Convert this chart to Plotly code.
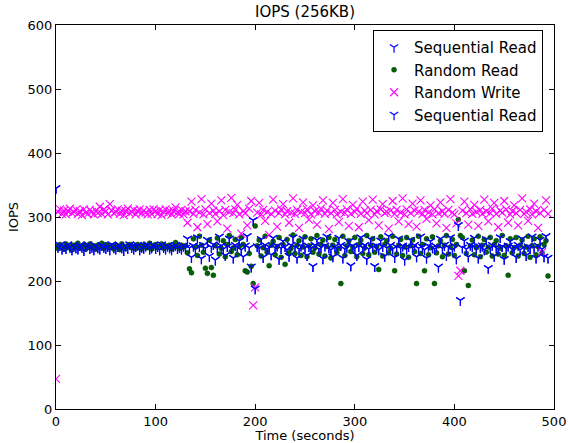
import plotly.graph_objects as go

# Time axis (seconds), sampled every 2 s
TIME = list(range(0, 496, 2))

seq_read = [
    345, 253, 256, 250, 254, 251, 257, 253, 249, 255,
    252, 250, 256, 253, 248, 254, 257, 251, 253, 249,
    255, 252, 250, 256, 253, 251, 254, 249, 257, 252,
    250, 254, 256, 252, 248, 255, 251, 257, 253, 250,
    254, 256, 249, 253, 251, 255, 257, 250, 252, 256,
    251, 254, 249, 257, 253, 250, 255, 252, 249, 254,
    256, 251, 253, 250, 255, 252, 266, 252, 237, 255,
    250, 268, 254, 235, 256, 251, 264, 239, 253, 257,
    233, 252, 269, 255, 250, 240, 254, 266, 251, 236,
    256, 253, 263, 249, 238, 255, 270, 252, 222, 295,
    188, 254, 251, 265, 237, 256, 250, 253, 241, 267,
    252, 255, 234, 251, 262, 254, 249, 239, 256, 268,
    253, 236, 250, 255, 266, 252, 240, 254, 251, 223,
    256, 264, 250, 253, 235, 255, 269, 252, 249, 238,
    254, 251, 267, 256, 236, 250, 253, 262, 224, 255,
    251, 240, 254, 268, 252, 256, 234, 250, 265, 253,
    223, 255, 249, 263, 254, 239, 252, 270, 256, 250,
    237, 253, 266, 251, 255, 233, 250, 254, 264, 252,
    256, 238, 251, 269, 253, 249, 236, 255, 262, 252,
    250, 254, 222, 266, 251, 256, 240, 253, 268, 249,
    255, 235, 287, 170, 252, 263, 250, 238, 256, 254,
    267, 251, 236, 253, 255, 249, 265, 220, 252, 256,
    239, 253, 250, 268, 254, 234, 251, 255, 262, 250,
    253, 237, 256, 249, 266, 252, 240, 254, 251, 269,
    252, 236, 255, 264, 250, 238, 270, 236,
]

random_read = [
    254, 251, 257, 253, 250, 258, 252, 255, 249, 256,
    253, 259, 251, 254, 256, 250, 253, 258, 252, 255,
    250, 256, 253, 259, 251, 254, 257, 252, 255, 250,
    256, 253, 249, 258, 254, 251, 255, 257, 252, 254,
    251, 257, 254, 250, 256, 253, 252, 259, 250, 255,
    257, 252, 254, 258, 251, 255, 253, 256, 250, 253,
    260, 254, 251, 256, 253, 255, 244, 219, 213, 266,
    253, 240, 270, 256, 245, 220, 212, 264, 221, 209,
    255, 267, 242, 251, 263, 238, 257, 271, 246, 252,
    265, 241, 254, 268, 257, 216, 214, 243, 223, 196,
    286, 255, 264, 239, 252, 270, 245, 224, 256, 262,
    241, 254, 268, 237, 257, 226, 265, 244, 251, 272,
    243, 256, 263, 240, 253, 269, 238, 255, 266, 245,
    252, 271, 242, 257, 264, 239, 254, 268, 236, 256,
    265, 244, 251, 196, 270, 240, 255, 263, 246, 253,
    268, 238, 257, 264, 243, 252, 271, 241, 256, 266,
    245, 254, 218, 269, 239, 257, 263, 244, 251, 270,
    216, 242, 256, 265, 240, 253, 268, 237, 255, 264,
    246, 196, 270, 243, 257, 216, 266, 241, 252, 269,
    196, 244, 255, 263, 238, 256, 271, 242, 253, 265,
    240, 257, 296, 271, 268, 216, 243, 193, 255, 264,
    241, 252, 270, 238, 256, 265, 245, 253, 268, 239,
    257, 263, 242, 251, 271, 240, 255, 209, 266, 244,
    252, 268, 239, 256, 264, 243, 253, 270, 237, 255,
    266, 241, 254, 269, 244, 257, 263, 208,
]

random_write = [
    47, 308, 312, 305, 310, 304, 309, 313, 306, 308,
    311, 305, 309, 303, 312, 307, 305, 311, 308, 304,
    310, 306, 316, 305, 312, 309, 304, 320, 310, 306,
    308, 312, 305, 310, 303, 309, 313, 306, 308, 311,
    304, 309, 312, 306, 310, 307, 304, 311, 305, 312,
    309, 305, 311, 303, 308, 312, 306, 310, 304, 309,
    315, 307, 305, 311, 304, 309, 291, 309, 324, 305,
    311, 284, 307, 328, 304, 312, 289, 306, 321, 310,
    305, 293, 309, 326, 303, 311, 282, 308, 330, 306,
    312, 319, 304, 274, 309, 306, 287, 313, 325, 162,
    190, 307, 322, 304, 311, 294, 308, 272, 305, 327,
    310, 285, 306, 312, 320, 304, 309, 291, 307, 329,
    305, 311, 283, 308, 323, 306, 312, 296, 304, 318,
    309, 288, 307, 313, 326, 305, 310, 281, 306, 322,
    311, 304, 292, 308, 328, 306, 312, 286, 305, 319,
    308, 313, 284, 305, 324, 310, 306, 295, 311, 327,
    304, 309, 287, 312, 320, 306, 308, 282, 310, 325,
    305, 311, 293, 307, 329, 304, 312, 289, 306, 321,
    310, 285, 308, 326, 305, 311, 297, 307, 318, 304,
    312, 290, 306, 323, 309, 305, 283, 311, 328, 307,
    304, 290, 208, 216, 310, 324, 306, 288, 312, 305,
    319, 308, 286, 311, 305, 327, 309, 293, 306, 313,
    322, 305, 284, 310, 307, 325, 312, 291, 304, 309,
    318, 306, 287, 311, 329, 305, 308, 294, 312, 304,
    321, 309, 283, 306, 245, 311, 326, 305,
]

X_TICKS = [0, 100, 200, 300, 400, 500]
Y_TICKS = [0, 100, 200, 300, 400, 500, 600]

FONT = "DejaVu Sans"

fig = go.Figure()

def yseries(name, vals):
    return go.Scatter(
        x=TIME[:len(vals)], y=vals, mode="markers", name=name,
        marker=dict(symbol="y-down", size=7, color="#0000ff",
                    line=dict(color="#0000ff", width=1.2)),
    )

fig.add_trace(yseries("Sequential Read", seq_read))
fig.add_trace(go.Scatter(
    x=TIME[:len(random_read)], y=random_read, mode="markers", name="Random Read",
    marker=dict(symbol="circle", size=5, color="#006400",
                line=dict(color="#003a00", width=0.5)),
))
fig.add_trace(go.Scatter(
    x=TIME[:len(random_write)], y=random_write, mode="markers", name="Random Write",
    marker=dict(symbol="x-thin", size=8, color="#ff00ff",
                line=dict(color="#ff00ff", width=1.1)),
))
fig.add_trace(yseries("Sequential Read", seq_read))

axis_common = dict(
    showline=True, linecolor="black", linewidth=1, mirror="ticks",
    ticks="inside", ticklen=5, tickcolor="black", tickwidth=1,
    showgrid=False, zeroline=False, automargin=False,
    tickfont=dict(family=FONT, size=13, color="black"),
)

fig.update_layout(
    width=568, height=443,
    margin=dict(l=56, r=14, t=25, b=34),
    paper_bgcolor="white", plot_bgcolor="white",
    font=dict(family=FONT, size=13, color="black"),
    title=dict(text="IOPS (256KB)", x=0.5, xref="paper", xanchor="center",
               y=1 - 12 / 443, yanchor="middle",
               font=dict(family=FONT, size=15, color="black")),
    xaxis=dict(range=[0, 500], tickvals=X_TICKS,
               title=dict(text="Time (seconds)", standoff=2,
                          font=dict(family=FONT, size=13)),
               **axis_common),
    yaxis=dict(range=[0, 600], tickvals=Y_TICKS,
               title=dict(text="IOPS", standoff=6,
                          font=dict(family=FONT, size=13)),
               **axis_common),
    legend=dict(x=0.978, y=0.987, xanchor="right", yanchor="top",
                bgcolor="white", bordercolor="black", borderwidth=1,
                font=dict(family=FONT, size=15, color="black"),
                tracegroupgap=0),
    showlegend=True,
)

fig.write_html("out.html",
               config={"displayModeBar": False},
               post_script="document.body.style.margin='0';document.body.style.overflow='hidden';")
